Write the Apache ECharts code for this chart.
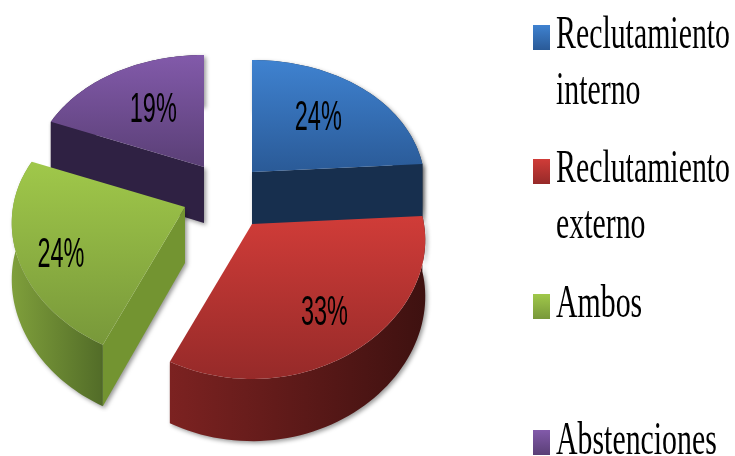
<!DOCTYPE html>
<html>
<head>
<meta charset="utf-8">
<style>html,body{margin:0;padding:0;background:#fff}#main{width:735px;height:456px;filter:blur(.45px)}</style>
<script src="https://cdn.jsdelivr.net/npm/echarts@6/dist/echarts.min.js"></script>
</head>
<body>
<div id="main"></div>
<script>
// Data
const categories = ['Reclutamiento\ninterno', 'Reclutamiento\nexterno', 'Ambos', 'Abstenciones'];
const values = [24, 33, 24, 19];

// Styles and layout
const sliceCenters = [[252, 172], [252, 224], [185, 207], [204, 167]];
const labelRadius = [0.63, 0.68, 0.75, 0.6];
const labelOffsets = [[-4, 2], [2, 9], [0, 11], [4, 3]];
const drawRank = [1, 3, 2, 0];
const topColors = [['#3f82d0', '#2a5a97'], ['#d03c38', '#962a29'], ['#a0c84a', '#78983a'], ['#825aaa', '#5a3f76']];
const rimColors = [['#1c3757', '#16304f'], ['#7c2221', '#3e1110'], ['#7f9f3b', '#526c28'], ['#352549', '#2f2143']];
const wallColors = ['#172f4e', '#5a1716', '#739431', '#2f2143'];
const visibleWalls = [[1], [], [0], [0, 1]]; // 0 = start edge, 1 = end edge
const legendIconTops = [25, 159, 294, 430];
const legendTextY = [8, 142, 277, 414];
const RX = 172, RY = 130, PERSP_X = 0.12, PERSP_Y = 0.161, DEPTH = 56;

const total = values.reduce((a, b) => a + b, 0);
const starts = [];
values.reduce((acc, v, i) => { starts[i] = acc; return acc + v; }, 0);

function project(c, deg, r) {
  const t = deg * Math.PI / 180, v = Math.cos(t) * r;
  const wx = 1 + PERSP_X * v, wy = 1 + PERSP_Y * v;
  return [c[0] + RX * r * Math.sin(t) / wx, c[1] - RY * v / wy, DEPTH * Math.pow(1 / wy, 0.6)];
}
const gradV = cs => new echarts.graphic.LinearGradient(0, 0, 0, 1, [{offset: 0, color: cs[0]}, {offset: 1, color: cs[1]}]);
const gradH = cs => new echarts.graphic.LinearGradient(0, 0, 1, 0, [{offset: 0, color: cs[0]}, {offset: 1, color: cs[1]}]);
const shadow = {shadowBlur: 4, shadowColor: 'rgba(0,0,0,0.4)', shadowOffsetX: 2, shadowOffsetY: 2};

function renderSlice(params, api) {
  const i = params.dataIndex, v = api.value(0), c = sliceCenters[i];
  const a0 = starts[i] / total * 360, a1 = a0 + v / total * 360;
  const arc = [];
  for (let k = 0; k <= 60; k++) arc.push(project(c, a0 + (a1 - a0) * k / 60, 1));
  const apex = project(c, 0, 0);
  const down = p => [p[0], p[1] + p[2]];
  const flat = p => [p[0], p[1]];
  const z = drawRank[i] * 10;
  const rim = arc.map(flat).concat(arc.slice().reverse().map(down));
  const poly = (points, style, dz) => ({type: 'polygon', shape: {points}, style, z2: z + dz, silent: true});
  const wall = e => [flat(apex), flat(e), down(e), down(apex)];
  const mid = project(c, (a0 + a1) / 2, labelRadius[i]);
  const children = [poly(rim, Object.assign({fill: gradH(rimColors[i])}, shadow), 0)];
  visibleWalls[i].forEach(w => {
    children.push(poly(wall(w === 0 ? arc[0] : arc[60]), Object.assign({fill: wallColors[i]}, shadow), 1));
  });
  children.push(poly([flat(apex)].concat(arc.map(flat)), {fill: gradV(topColors[i])}, 2));
  children.push({type: 'text', x: mid[0] + labelOffsets[i][0], y: mid[1] + labelOffsets[i][1], scaleX: 0.56, z2: 100, silent: true,
    style: {text: v + '%', fill: '#000', font: '42px "Liberation Sans"', align: 'center', verticalAlign: 'middle'}});
  return {type: 'group', children};
}

const legendGraphics = [];
categories.forEach((name, i) => {
  legendGraphics.push({type: 'rect', left: 533, top: legendIconTops[i], shape: {width: 17, height: 25},
    style: {fill: gradV(topColors[i])}, silent: true});
  legendGraphics.push({type: 'text', x: 556, y: legendTextY[i], scaleX: 0.635, silent: true,
    style: {text: name, fill: '#000', font: '47px "Liberation Serif"', lineHeight: 56, align: 'left', verticalAlign: 'top'}});
});

const chart = echarts.init(document.getElementById('main'), null, {renderer: 'canvas'});
chart.setOption({
  animation: false,
  backgroundColor: '#fff',
  graphic: legendGraphics,
  series: [{
    type: 'custom',
    coordinateSystem: 'none',
    renderItem: renderSlice,
    data: values.map((v, i) => ({name: categories[i], value: [v]}))
  }]
});
</script>
</body>
</html>
